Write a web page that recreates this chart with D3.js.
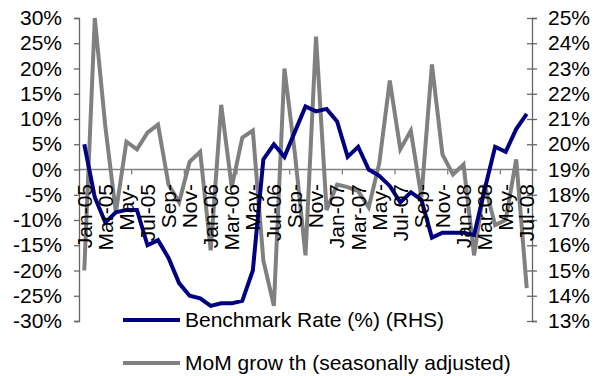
<!DOCTYPE html>
<html>
<head>
<meta charset="utf-8">
<script src="https://cdn.jsdelivr.net/npm/d3@7"></script>
<style>
  html, body { margin: 0; padding: 0; background: #fff; }
  svg text { font-family: "Liberation Sans", Arial, sans-serif; fill: #000; }
</style>
</head>
<body>
<svg id="chart" width="604" height="376"></svg>
<script>
// ---- data ----
const months = ["Jan-05","Feb-05","Mar-05","Apr-05","May-05","Jun-05","Jul-05","Aug-05","Sep-05","Oct-05","Nov-05","Dec-05",
  "Jan-06","Feb-06","Mar-06","Apr-06","May-06","Jun-06","Jul-06","Aug-06","Sep-06","Oct-06","Nov-06","Dec-06",
  "Jan-07","Feb-07","Mar-07","Apr-07","May-07","Jun-07","Jul-07","Aug-07","Sep-07","Oct-07","Nov-07","Dec-07",
  "Jan-08","Feb-08","Mar-08","Apr-08","May-08","Jun-08","Jul-08"];
// tick labels as displayed (every second month, some clipped)
const tickLabels = ["Jan-05","Mar-05","May-","Jul-05","Sep-","Nov-","Jan-06","Mar-06","May-","Jul-06","Sep-","Nov-",
  "Jan-07","Mar-07","May-","Jul-07","Sep-","Nov-","Jan-08","Mar-08","May-","Jul-08"];
// Benchmark Rate (%) (RHS)
const benchmarkRate = [20.0,17.9,16.9,17.3,17.4,17.4,16.0,16.2,15.5,14.5,14.0,13.9,
  13.6,13.7,13.7,13.8,15.0,19.4,20.0,19.5,20.5,21.5,21.3,21.4,
  20.9,19.5,19.9,19.0,18.75,18.35,17.7,18.1,17.8,16.3,16.5,16.5,
  16.5,16.4,18.2,19.9,19.7,20.6,21.2];
// MoM growth (seasonally adjusted), %
const momGrowth = [-20,30,8.5,-8.5,5.5,4,7.3,8.9,-3,-6.5,1.5,3.5,
  -16,12.8,-3.5,6.3,7.7,-18,-27,20,3,-17,26.3,-8,
  -3,-3.5,-4.3,-7.5,1.2,17.6,4,7.7,-5.5,20.8,3,-1,
  1,-17,-3,-11,-10,2,-23.5];
const leftTicks = [-30,-25,-20,-15,-10,-5,0,5,10,15,20,25,30];
const rightTicks = [13,14,15,16,17,18,19,20,21,22,23,24,25];
const seriesNames = ["Benchmark Rate (%) (RHS)", "MoM grow th (seasonally adjusted)"];

// ---- layout ----
const L = 79, R = 532, T = 18, B = 321;
const FS = 21;
const svg = d3.select("#chart");

const x = d3.scaleBand().domain(d3.range(months.length)).range([L, R]).paddingInner(0).paddingOuter(0);
const cx = i => x(i) + x.bandwidth() / 2;
const yL = d3.scaleLinear().domain([-30, 30]).range([B, T]);
const yR = d3.scaleLinear().domain([13, 25]).range([B, T]);

const axisColor = "#666";

// x axis (zero line)
const y0 = yL(0);
svg.append("line").attr("x1", L).attr("x2", R).attr("y1", y0).attr("y2", y0)
  .attr("stroke", "#808080").attr("stroke-width", 1.3);
d3.range(5, months.length, 5).forEach(k => {
  svg.append("line").attr("x1", x(k)).attr("x2", x(k)).attr("y1", y0).attr("y2", y0 + 5)
    .attr("stroke", "#808080").attr("stroke-width", 1.3);
});

// left axis
const gl = svg.append("g").attr("transform", `translate(${L},0)`)
  .call(d3.axisLeft(yL).tickValues(leftTicks).tickFormat(d => d + "%").tickSize(5).tickPadding(12));
gl.select(".domain").attr("stroke", axisColor).attr("stroke-width", 1.3);
gl.selectAll(".tick line").attr("stroke", axisColor).attr("stroke-width", 1.3);
gl.selectAll(".tick text").attr("font-size", FS).attr("font-family", "Liberation Sans, Arial, sans-serif").attr("fill", "#000");

// right axis (ticks crossing)
const gr = svg.append("g").attr("transform", `translate(${R},0)`)
  .call(d3.axisRight(yR).tickValues(rightTicks).tickFormat(d => d + "%").tickSize(5).tickPadding(11));
gr.select(".domain").attr("stroke", axisColor).attr("stroke-width", 1.3);
gr.selectAll(".tick line").attr("x1", -5).attr("x2", 5).attr("stroke", axisColor).attr("stroke-width", 1.3);
gr.selectAll(".tick text").attr("font-size", FS).attr("font-family", "Liberation Sans, Arial, sans-serif").attr("fill", "#000");

// lines
const lineL = d3.line().x((d, i) => cx(i)).y(d => yL(d));
const lineR = d3.line().x((d, i) => cx(i)).y(d => yR(d));
svg.append("path").datum(momGrowth).attr("d", lineL)
  .attr("fill", "none").attr("stroke", "#808080").attr("stroke-width", 4).attr("stroke-linejoin", "miter");
svg.append("path").datum(benchmarkRate).attr("d", lineR)
  .attr("fill", "none").attr("stroke", "#000080").attr("stroke-width", 4).attr("stroke-linejoin", "miter");

// x tick labels (rotated)
tickLabels.forEach((t, k) => {
  const i = k * 2;
  svg.append("text")
    .attr("transform", `translate(${cx(i)},184) rotate(-90)`)
    .attr("text-anchor", "end").attr("dy", "0.35em")
    .attr("font-size", FS).text(t);
});

// legend
const legY = [320, 363];
const legColors = ["#000080", "#808080"];
seriesNames.forEach((n, k) => {
  svg.append("line").attr("x1", 123).attr("x2", 180).attr("y1", legY[k]).attr("y2", legY[k])
    .attr("stroke", legColors[k]).attr("stroke-width", 4);
  svg.append("text").attr("x", 185).attr("y", legY[k]).attr("dy", "0.35em")
    .attr("font-size", FS).text(n);
});
</script>
</body>
</html>
